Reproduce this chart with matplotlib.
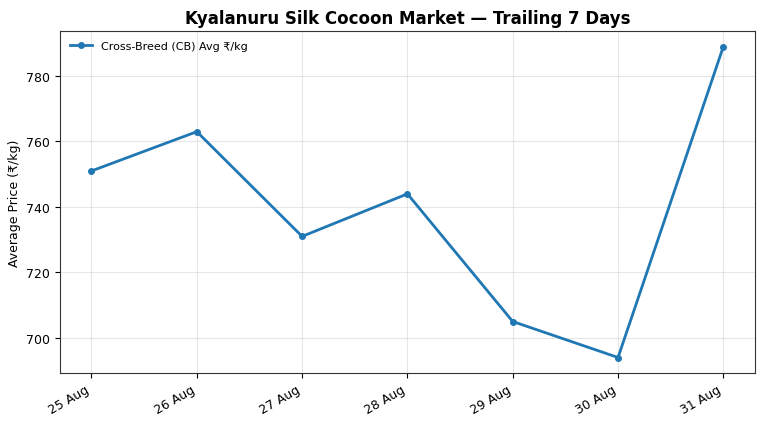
import matplotlib
matplotlib.use("Agg")
import matplotlib.pyplot as plt
import matplotlib.dates as mdates
import datetime

days = ["2024-08-25", "2024-08-26", "2024-08-27", "2024-08-28",
        "2024-08-29", "2024-08-30", "2024-08-31"]
cb_avg = [751, 763, 731, 744, 705, 694, 789]

dates = [datetime.datetime.strptime(d, "%Y-%m-%d") for d in days]

fig, ax = plt.subplots(figsize=(7.68, 4.27), dpi=100)
ax.plot(dates, cb_avg, marker='o', markersize=4, linewidth=2,
        color='#1f77b4', label='Cross-Breed (CB) Avg ₹/kg')
ax.set_title('Kyalanuru Silk Cocoon Market — Trailing 7 Days',
             fontsize=12, fontweight='bold')
ax.set_ylabel('Average Price (₹/kg)', fontsize=9)
ax.xaxis.set_major_locator(mdates.DayLocator())
ax.xaxis.set_major_formatter(mdates.DateFormatter('%d %b'))
ax.tick_params(labelsize=9)
ax.grid(True, alpha=0.3)
ax.legend(loc='upper left', frameon=False, fontsize=8)
for s in ax.spines.values():
    s.set_color('#333333')
fig.autofmt_xdate()
fig.subplots_adjust(left=0.078, right=0.983, top=0.925, bottom=0.124)
fig.savefig('out.png', dpi=100)
